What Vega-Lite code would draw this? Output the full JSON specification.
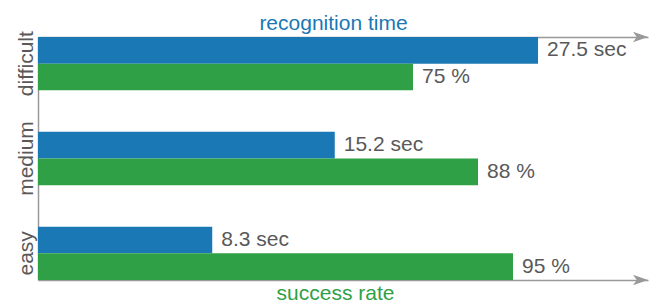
{
  "$schema": "https://vega.github.io/schema/vega-lite/v6.json",
  "width": 610,
  "height": 243,
  "autosize": "none",
  "padding": {"left": 38, "top": 37, "right": 6, "bottom": 22},
  "config": {
    "view": {"stroke": null},
    "font": "Liberation Sans",
    "axis": {"grid": false}
  },
  "data": {
    "values": [
      {"level": "difficult", "metric": "recognition time", "value": 27.5, "label": "27.5 sec"},
      {"level": "difficult", "metric": "success rate", "value": 75, "label": "75 %"},
      {"level": "medium", "metric": "recognition time", "value": 15.2, "label": "15.2 sec"},
      {"level": "medium", "metric": "success rate", "value": 88, "label": "88 %"},
      {"level": "easy", "metric": "recognition time", "value": 8.3, "label": "8.3 sec"},
      {"level": "easy", "metric": "success rate", "value": 95, "label": "95 %"}
    ]
  },
  "layer": [
    {
      "transform": [{"filter": "datum.metric == 'recognition time'"}],
      "layer": [
        {
          "mark": {"type": "bar"},
          "encoding": {
            "x": {
              "field": "value", "type": "quantitative",
              "scale": {"type": "pow", "exponent": 0.88, "domain": [0, 34.47], "nice": false, "zero": true},
              "axis": {
                "orient": "top", "labels": false, "ticks": false, "grid": false,
                "domainColor": "#999", "domainWidth": 1.5,
                "title": "recognition time", "titleColor": "#1a78b4", "titleFontSize": 21,
                "titleFontWeight": "normal", "titleFont": "Liberation Sans",
                "titlePadding": 4, "titleX": 295, "titleAlign": "center"
              }
            },
            "y": {
              "field": "level", "type": "nominal",
              "scale": {"domain": ["difficult", "medium", "easy"], "paddingInner": 0.438, "paddingOuter": 0},
              "axis": {
                "title": null, "ticks": false, "labelAngle": -90, "labelFontSize": 21,
                "labelColor": "#595959", "labelPadding": 2, "domainColor": "#999", "domainWidth": 1.5,
                "labelFont": "Liberation Sans"
              }
            },
            "yOffset": {"field": "metric", "type": "nominal", "scale": {"domain": ["recognition time", "success rate"], "paddingInner": 0, "paddingOuter": 0}},
            "color": {"field": "metric", "type": "nominal", "scale": {"domain": ["recognition time", "success rate"], "range": ["#1a78b4", "#2fa046"]}, "legend": null}
          }
        },
        {
          "mark": {"type": "text", "align": "left", "baseline": "middle", "dx": 9, "fontSize": 21, "color": "#595959", "font": "Liberation Sans"},
          "encoding": {
            "x": {"field": "value", "type": "quantitative"},
            "y": {"field": "level", "type": "nominal"},
            "yOffset": {"field": "metric", "type": "nominal"},
            "text": {"field": "label"}
          }
        },
        {
          "data": {"values": [{}]},
          "mark": {"type": "point", "shape": "M-2,-0.7L0,0L-2,0.7L-1.5,0Z", "filled": true, "size": 225, "color": "#999", "opacity": 1, "strokeWidth": 0},
          "encoding": {
            "x": {"datum": 34.47, "type": "quantitative"},
            "y": {"datum": "difficult", "type": "nominal", "bandPosition": 0}
          }
        }
      ]
    },
    {
      "transform": [{"filter": "datum.metric == 'success rate'"}],
      "layer": [
        {
          "mark": {"type": "bar"},
          "encoding": {
            "x": {
              "field": "value", "type": "quantitative",
              "scale": {"domain": [0, 122], "nice": false},
              "axis": {
                "orient": "bottom", "labels": false, "ticks": false, "grid": false,
                "domainColor": "#999", "domainWidth": 1.5,
                "title": "success rate", "titleColor": "#2fa046", "titleFontSize": 21,
                "titleFontWeight": "normal", "titleFont": "Liberation Sans",
                "titlePadding": 2, "titleX": 297, "titleAlign": "center"
              }
            },
            "y": {"field": "level", "type": "nominal"},
            "yOffset": {"field": "metric", "type": "nominal"},
            "color": {"field": "metric", "type": "nominal", "legend": null}
          }
        },
        {
          "mark": {"type": "text", "align": "left", "baseline": "middle", "dx": 9, "fontSize": 21, "color": "#595959", "font": "Liberation Sans"},
          "encoding": {
            "x": {"field": "value", "type": "quantitative"},
            "y": {"field": "level", "type": "nominal"},
            "yOffset": {"field": "metric", "type": "nominal"},
            "text": {"field": "label"}
          }
        },
        {
          "data": {"values": [{}]},
          "mark": {"type": "point", "shape": "M-2,-0.7L0,0L-2,0.7L-1.5,0Z", "filled": true, "size": 225, "color": "#999", "opacity": 1, "strokeWidth": 0},
          "encoding": {
            "x": {"datum": 122, "type": "quantitative"},
            "y": {"datum": "easy", "type": "nominal", "bandPosition": 1}
          }
        }
      ]
    }
  ],
  "resolve": {"scale": {"x": "independent"}, "axis": {"x": "independent"}}
}
